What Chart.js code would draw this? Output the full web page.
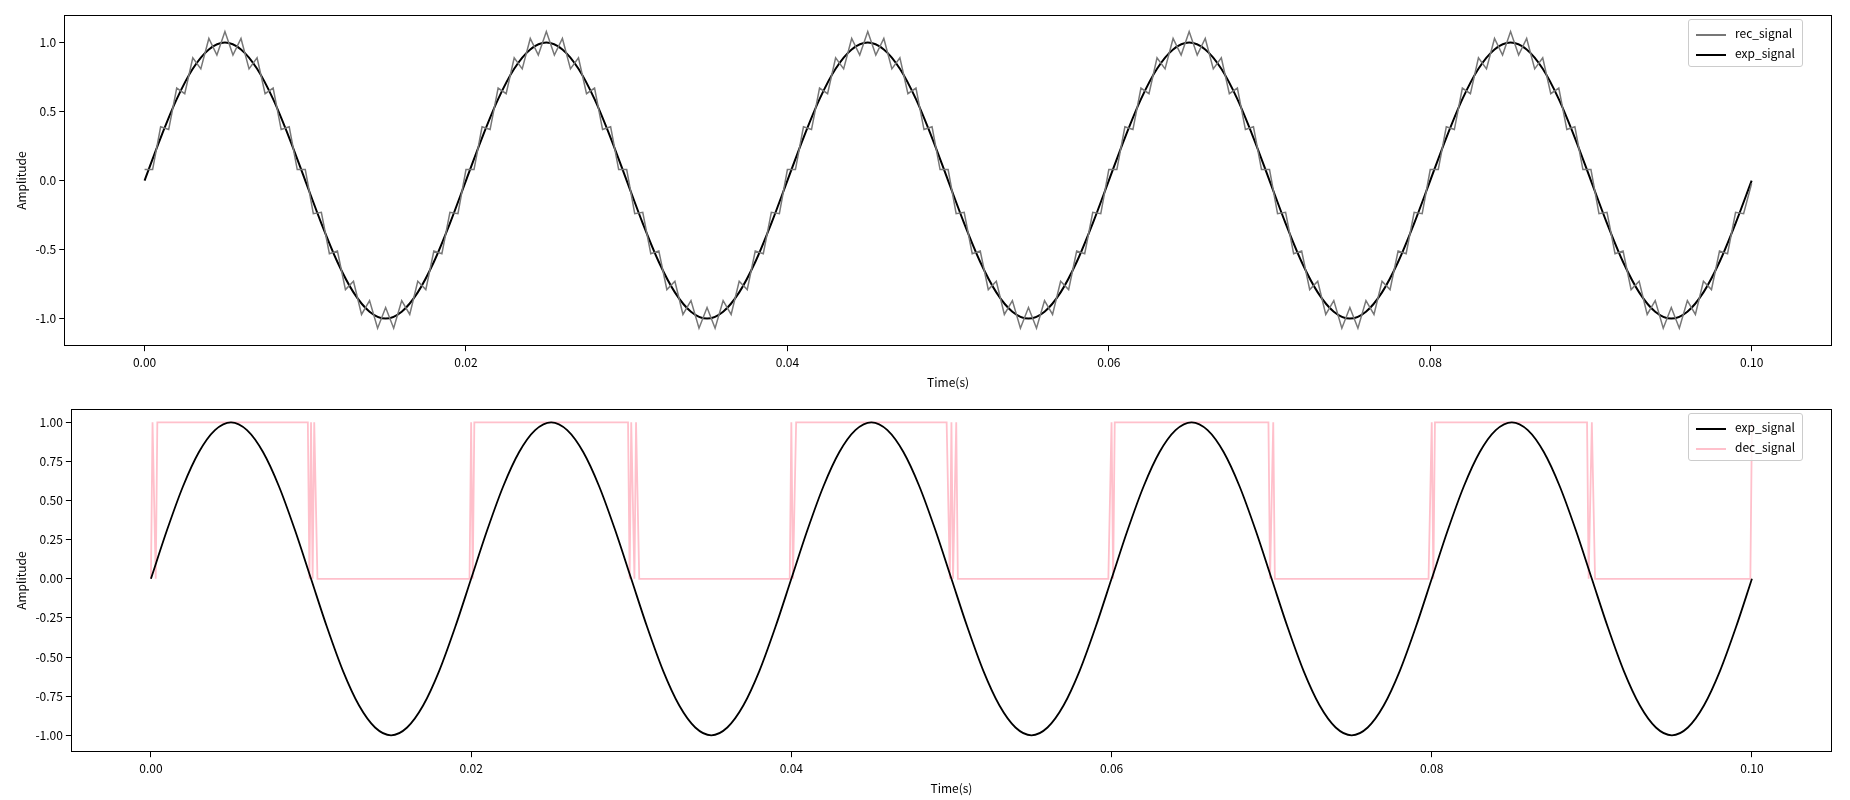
<!DOCTYPE html>
<html><head><meta charset="utf-8">
<script src="https://cdn.jsdelivr.net/npm/chart.js@4"></script>
<style>
body{margin:0;width:1850px;height:800px;background:#fff;font-family:"Noto Sans CJK SC","DejaVu Sans Mono",monospace;overflow:hidden;}
.box{position:absolute;left:0;width:1850px;}
.leg{position:absolute;background:rgba(255,255,255,0.8);border:1px solid #ccc;border-radius:3px;font-size:12px;padding:3px 7px;line-height:20px;}
.leg span{display:inline-block;width:30px;height:0;border-top:2px solid;vertical-align:middle;margin-right:9px;}
</style></head><body>
<div class="box" style="top:0"><canvas id="c1"></canvas></div>
<div class="box" style="top:394px"><canvas id="c2"></canvas></div>
<div class="leg" style="left:1688px;top:19px"><div><span style="border-color:#777"></span>rec_signal</div><div><span style="border-color:#000"></span>exp_signal</div></div>
<div class="leg" style="left:1688px;top:413px"><div><span style="border-color:#000"></span>exp_signal</div><div><span style="border-color:pink"></span>dec_signal</div></div>
<script>
// exp_signal sampled every 0.001 s
const expY=[0,0.31,0.59,0.81,0.95,1,0.95,0.81,0.59,0.31,0,-0.31,-0.59,-0.81,-0.95,-1,-0.95,-0.81,-0.59,-0.31,
0,0.31,0.59,0.81,0.95,1,0.95,0.81,0.59,0.31,0,-0.31,-0.59,-0.81,-0.95,-1,-0.95,-0.81,-0.59,-0.31,
0,0.31,0.59,0.81,0.95,1,0.95,0.81,0.59,0.31,0,-0.31,-0.59,-0.81,-0.95,-1,-0.95,-0.81,-0.59,-0.31,
0,0.31,0.59,0.81,0.95,1,0.95,0.81,0.59,0.31,0,-0.31,-0.59,-0.81,-0.95,-1,-0.95,-0.81,-0.59,-0.31,
0,0.31,0.59,0.81,0.95,1,0.95,0.81,0.59,0.31,0,-0.31,-0.59,-0.81,-0.95,-1,-0.95,-0.81,-0.59,-0.31,0];
// rec_signal sampled every 0.0005 s
const recY=[0.08,0.08,0.39,0.37,0.67,0.63,0.89,0.81,1.03,0.91,1.08,0.91,1.03,0.81,0.89,0.63,0.67,0.37,0.39,0.08,0.08,-0.24,-0.23,-0.53,-0.51,-0.79,-0.73,-0.97,-0.87,-1.07,-0.92,-1.07,-0.87,-0.97,-0.73,-0.79,-0.51,-0.53,-0.23,-0.24,
0.08,0.08,0.39,0.37,0.67,0.63,0.89,0.81,1.03,0.91,1.08,0.91,1.03,0.81,0.89,0.63,0.67,0.37,0.39,0.08,0.08,-0.24,-0.23,-0.53,-0.51,-0.79,-0.73,-0.97,-0.87,-1.07,-0.92,-1.07,-0.87,-0.97,-0.73,-0.79,-0.51,-0.53,-0.23,-0.24,
0.08,0.08,0.39,0.37,0.67,0.63,0.89,0.81,1.03,0.91,1.08,0.91,1.03,0.81,0.89,0.63,0.67,0.37,0.39,0.08,0.08,-0.24,-0.23,-0.53,-0.51,-0.79,-0.73,-0.97,-0.87,-1.07,-0.92,-1.07,-0.87,-0.97,-0.73,-0.79,-0.51,-0.53,-0.23,-0.24,
0.08,0.08,0.39,0.37,0.67,0.63,0.89,0.81,1.03,0.91,1.08,0.91,1.03,0.81,0.89,0.63,0.67,0.37,0.39,0.08,0.08,-0.24,-0.23,-0.53,-0.51,-0.79,-0.73,-0.97,-0.87,-1.07,-0.92,-1.07,-0.87,-0.97,-0.73,-0.79,-0.51,-0.53,-0.23,-0.24,
0.08,0.08,0.39,0.37,0.67,0.63,0.89,0.81,1.03,0.91,1.08,0.91,1.03,0.81,0.89,0.63,0.67,0.37,0.39,0.08,0.08,-0.24,-0.23,-0.53,-0.51,-0.79,-0.73,-0.97,-0.87,-1.07,-0.92,-1.07,-0.87,-0.97,-0.73,-0.79,-0.51,-0.53,-0.23,-0.24,-0.02];
// dec_signal transitions
const decX=[0,0.0001,0.0003,0.0004,0.0098,0.0099,0.0100,0.0101,0.0102,0.0104,0.0105,0.0199,0.0200,0.0201,0.0202,0.0203,0.0298,0.0299,0.0300,0.0302,0.0303,0.0305,0.0399,0.0400,0.0401,0.0403,0.0497,0.0499,0.0500,0.0501,0.0503,0.0504,0.0598,0.0600,0.0601,0.0602,0.0698,0.0699,0.0701,0.0702,0.0704,0.0798,0.0800,0.0801,0.0802,0.0897,0.0898,0.0900,0.0902,0.0903,0.0999,0.1000];
const decY=[0,1,0,1,1,0,1,0,1,0,0,0,1,0,1,1,1,0,1,0,1,0,0,1,0,1,1,0,1,0,1,0,0,1,0,1,1,0,1,0,0,0,1,0,1,1,0,1,0,0,0,1];
const xTicks=[0,0.02,0.04,0.06,0.08,0.10];
const yTicks1=[-1,-0.5,0,0.5,1];
const yTicks2=[-1,-0.75,-0.5,-0.25,0,0.25,0.5,0.75,1];

const F={family:'"Noto Sans CJK SC","DejaVu Sans Mono",monospace',size:12};
const frame={id:'frame',afterDraw(c){const a=c.chartArea,x=c.ctx;x.save();x.strokeStyle='#000';x.lineWidth=1;x.strokeRect(Math.round(a.left)+0.5,Math.round(a.top)+0.5,Math.round(a.width)-1,Math.round(a.height)-1);x.restore();}};
function mk(id,h,ds,ymin,ymax,yt,dec){
 const cv=document.getElementById(id);cv.width=1850;cv.height=h;
 new Chart(cv,{type:'line',data:{datasets:ds},plugins:[frame],
 options:{animation:false,responsive:false,devicePixelRatio:1,
  layout:{padding:{top:15,right:18,left:10,bottom:0}},
  plugins:{legend:{display:false},tooltip:{enabled:false}},
  elements:{point:{radius:0}},
  scales:{
   x:{type:'linear',min:-0.005,max:0.105,afterBuildTicks:s=>{s.ticks=xTicks.map(v=>({value:v}))},
      ticks:{color:'#000',font:F,callback:v=>v.toFixed(2),maxRotation:0,padding:4},
      grid:{drawOnChartArea:false,tickLength:5,color:'#000'},border:{display:false},
      title:{display:true,text:'Time(s)',color:'#000',font:F,padding:{top:2,bottom:4}}},
   y:{min:ymin,max:ymax,afterBuildTicks:s=>{s.ticks=yt.map(v=>({value:v}))},
      ticks:{color:'#000',font:F,callback:v=>v.toFixed(dec)},
      grid:{drawOnChartArea:false,tickLength:5,color:'#000'},border:{display:false},
      title:{display:true,text:'Amplitude',color:'#000',font:F}}
  }}});
}
const expData=expY.map((y,i)=>({x:i*0.001,y}));
const recData=recY.map((y,i)=>({x:i*0.0005,y}));
const decData=decX.map((x,i)=>({x,y:decY[i]}));
mk('c1',394,[{data:recData,borderColor:'#777',borderWidth:1.5,tension:0},{data:expData,borderColor:'#000',borderWidth:2,cubicInterpolationMode:'monotone'}],-1.2,1.2,yTicks1,1);
mk('c2',406,[{data:expData,borderColor:'#000',borderWidth:1.8,cubicInterpolationMode:'monotone'},{data:decData,borderColor:'pink',borderWidth:1.8}],-1.108,1.085,yTicks2,2);
</script></body></html>
